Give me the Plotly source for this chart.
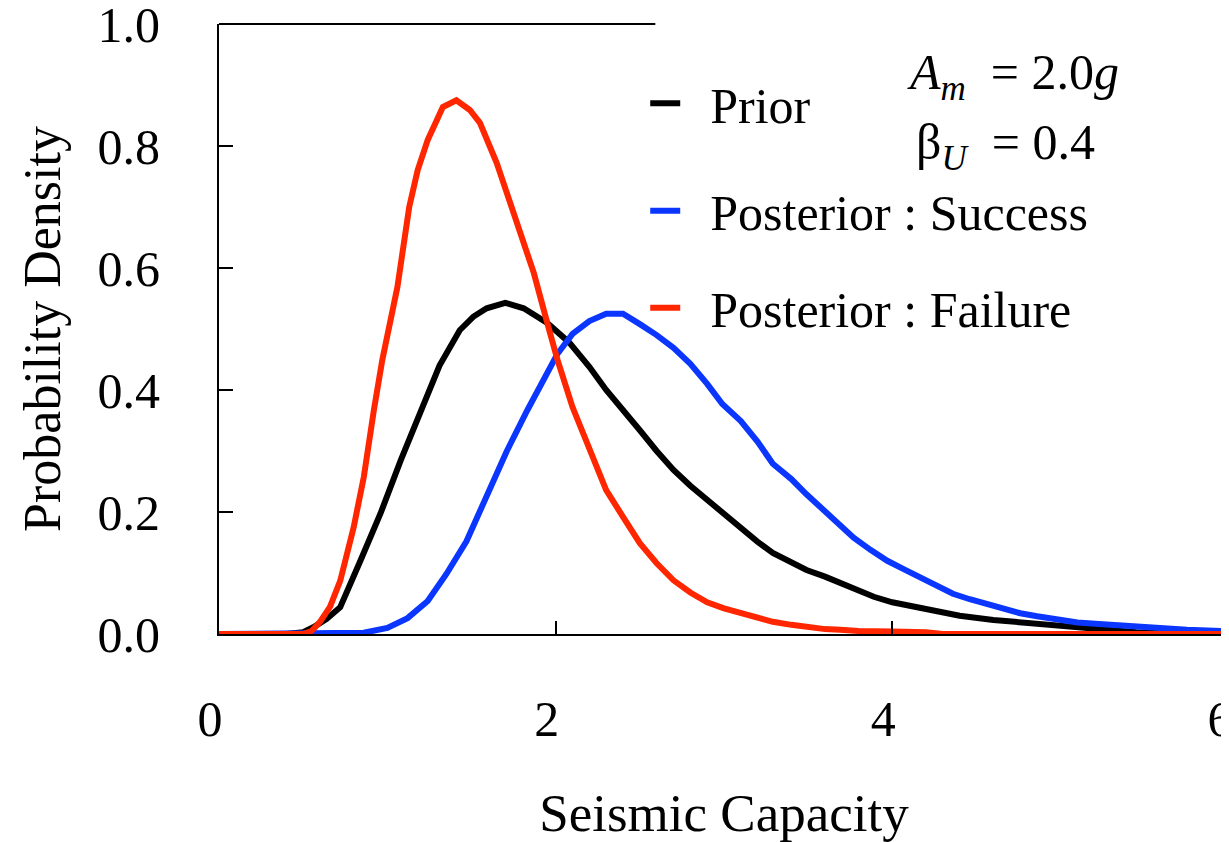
import plotly.graph_objects as go

# ---- data ----
prior_x = [0, 0.4, 0.5, 0.56, 0.64, 0.72, 0.84, 0.96, 1.08, 1.19, 1.31, 1.43, 1.51, 1.59, 1.70,
           1.81, 1.95, 2.08, 2.20, 2.30, 2.40, 2.50, 2.60, 2.70, 2.80, 2.90, 3.0, 3.10, 3.20,
           3.29, 3.40, 3.49, 3.60, 3.69, 3.79, 3.89, 4.0, 4.17, 4.28, 4.40, 4.60, 4.80, 5.0,
           5.16, 5.30, 5.45, 5.60, 6.0]
prior_y = [0, 0, 0.003, 0.011, 0.025, 0.044, 0.12, 0.198, 0.285, 0.362, 0.44, 0.498, 0.52, 0.534, 0.543,
           0.534, 0.51, 0.478, 0.438, 0.40, 0.368, 0.334, 0.30, 0.269, 0.243, 0.22, 0.194, 0.171, 0.151,
           0.133, 0.118, 0.105, 0.094, 0.083, 0.071, 0.061, 0.052, 0.042, 0.036, 0.030, 0.023, 0.018, 0.013,
           0.010, 0.006, 0.003, 0.001, 0]

success_x = [0, 0.7, 0.86, 1.0, 1.12, 1.24, 1.35, 1.47, 1.59, 1.71, 1.83, 1.95, 2.01, 2.10, 2.20,
             2.30, 2.40, 2.50, 2.60, 2.70, 2.80, 2.90, 2.99, 3.10, 3.20, 3.29, 3.40, 3.49, 3.60,
             3.69, 3.77, 3.87, 3.97, 4.07, 4.17, 4.27, 4.36, 4.46, 4.56, 4.66, 4.76, 4.86, 4.96,
             5.10, 5.25, 5.40, 5.55, 5.75, 5.95, 6.0]
success_y = [0, 0, 0.002, 0.01, 0.026, 0.054, 0.098, 0.152, 0.229, 0.30, 0.366, 0.431, 0.459, 0.492, 0.513,
             0.525, 0.525, 0.508, 0.49, 0.469, 0.443, 0.41, 0.377, 0.349, 0.315, 0.279, 0.254, 0.229, 0.20,
             0.178, 0.158, 0.138, 0.12, 0.106, 0.092, 0.079, 0.066, 0.057, 0.049, 0.041, 0.034, 0.029, 0.025,
             0.019, 0.016, 0.013, 0.010, 0.007, 0.005, 0.004]

failure_x = [0, 0.5, 0.55, 0.60, 0.66, 0.72, 0.80, 0.86, 0.92, 0.97, 1.06, 1.13, 1.18, 1.24, 1.33,
             1.41, 1.49, 1.55, 1.65, 1.75, 1.87, 1.95, 2.01, 2.10, 2.20, 2.30, 2.40, 2.50, 2.60,
             2.70, 2.80, 2.90, 3.0, 3.10, 3.20, 3.29, 3.40, 3.49, 3.60, 3.69, 3.80, 4.0, 4.2, 4.3, 6.0]
failure_y = [0, 0, 0.005, 0.02, 0.045, 0.087, 0.175, 0.257, 0.367, 0.449, 0.569, 0.70, 0.76, 0.81, 0.864,
             0.875, 0.859, 0.838, 0.772, 0.69, 0.592, 0.51, 0.45, 0.372, 0.302, 0.236, 0.192, 0.149, 0.116,
             0.088, 0.068, 0.052, 0.042, 0.034, 0.026, 0.020, 0.015, 0.011, 0.008, 0.007, 0.005, 0.004, 0.003, 0, 0]

series_names = ["\u2002Prior", "\u2002Posterior : Success", "\u2002Posterior : Failure"]
series_colors = ["#000000", "#0a36ff", "#ff2600"]

x_ticks = [0, 2, 4, 6]
y_ticks = [0.0, 0.2, 0.4, 0.6, 0.8, 1.0]
y_tick_text = ["0.0", "0.2", "0.4", "0.6", "0.8", "1.0"]

FONT = "Liberation Serif, Times New Roman, serif"

fig = go.Figure()
data = [(prior_x, prior_y), (success_x, success_y), (failure_x, failure_y)]
legends = ["legend", "legend2", "legend3"]
for (xs, ys), name, color, lg in zip(data, series_names, series_colors, legends):
    fig.add_trace(go.Scatter(x=xs, y=ys, mode="lines", name=name,
                             line=dict(color=color, width=6), legend=lg))

leg_common = dict(xref="paper", yref="paper", xanchor="left", yanchor="middle",
                  bgcolor="rgba(0,0,0,0)", borderwidth=0,
                  font=dict(family=FONT, size=50, color="black"))
# the page body adds an 8px offset, so the figure is 8px smaller than the window
fig.update_layout(
    width=1221, height=834,
    margin=dict(l=211, r=0, t=16, b=208),
    plot_bgcolor="white", paper_bgcolor="white",
    font=dict(family=FONT, size=50, color="black"),
    legend=dict(x=0.422, y=0.870, **leg_common),
    legend2=dict(x=0.422, y=0.694, **leg_common),
    legend3=dict(x=0.422, y=0.535, **leg_common),
    xaxis=dict(range=[0, 6], tickvals=x_ticks, ticktext=[str(v) for v in x_ticks],
               ticks="inside", ticklen=13, tickwidth=2, tickcolor="black", automargin=False,
               showline=True, linewidth=2, linecolor="black", showgrid=False, zeroline=False,
               ticklabeloverflow="allow",
               tickfont=dict(family=FONT, size=50), ticklabelstandoff=40, ticklabelshift=-9,
               title=dict(text="Seismic Capacity", font=dict(family=FONT, size=53), standoff=53)),
    yaxis=dict(range=[0, 1.0], tickvals=y_ticks, ticktext=y_tick_text,
               ticks="inside", ticklen=14, tickwidth=2, tickcolor="black", automargin=False,
               showline=True, linewidth=2, linecolor="black", showgrid=False, zeroline=False,
               ticklabeloverflow="allow",
               tickfont=dict(family=FONT, size=50), ticklabelstandoff=47,
               title=dict(text="Probability Density", font=dict(family=FONT, size=52), standoff=20)),
    showlegend=True,
)

# partial top frame line (right part hidden behind the legend area in the original)
fig.add_shape(type="line", xref="paper", yref="paper", x0=0, x1=0.432, y0=1, y1=1,
              line=dict(color="black", width=2))

fig.add_annotation(xref="paper", yref="paper", x=0.786, y=0.915, xanchor="center", yanchor="middle",
                   text="<i>A</i><sub><i>m</i></sub>  = 2.0<i>g</i>", showarrow=False,
                   font=dict(family=FONT, size=50, color="black"))
fig.add_annotation(xref="paper", yref="paper", x=0.779, y=0.80, xanchor="center", yanchor="middle",
                   text="β<sub><i>U</i></sub>  = 0.4", showarrow=False,
                   font=dict(family=FONT, size=50, color="black"))

fig.write_html("out.html")
